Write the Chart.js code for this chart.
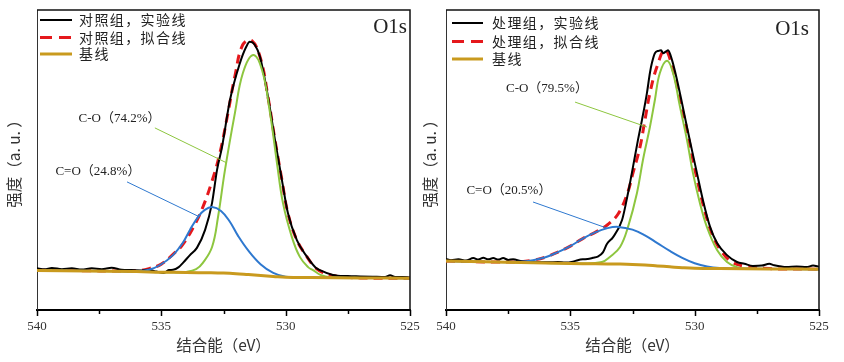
<!DOCTYPE html>
<html><head><meta charset="utf-8">
<script src="https://cdn.jsdelivr.net/npm/chart.js@4.4.1/dist/chart.umd.min.js"></script>
<style>
html,body{margin:0;padding:0;background:#fff;width:844px;height:362px;overflow:hidden}
canvas{position:absolute;top:0}
#c1{left:0}
#c2{left:420px}
</style></head><body>
<canvas id="c1" width="420" height="362"></canvas>
<canvas id="c2" width="424" height="362"></canvas>
<script>
// ---------- axis / labels ----------
const X_TICKS = [540, 535, 530, 525];
const X_MINOR = [537.5, 532.5, 527.5];
const X_TITLE = '结合能（eV）';
const Y_TITLE = '强度（a. u. ）';
const PANEL_TAG = 'O1s';
const NAMES_L = ['对照组，实验线', '对照组，拟合线', '基线'];
const NAMES_R = ['处理组，实验线', '处理组，拟合线', '基线'];
const PEAKS_L = ['C-O（74.2%）', 'C=O（24.8%）'];
const PEAKS_R = ['C-O（79.5%）', 'C=O（20.5%）'];

// ---------- left panel (control group) ----------
const L_EXP_X = [540,539.7,539.4,539,538.6,538.2,537.8,537.4,537,536.6,536.2,535.8,535.5,535.2,534.9,534.7,534.53,534.3,534.13,533.85,533.57,533.24,532.96,532.76,532.56,532.24,531.84,531.6,531.44,531.25,531.03,530.71,530.43,530.15,529.91,529.55,529.14,528.8,528.62,528.1,527.5,527,526.5,526,525.8,525.6,525.3,525];
const L_EXP_Y = [13.9,13.6,14.0,13.6,13.9,13.5,13.9,13.6,14.1,13.4,13.3,13.2,13.4,12.8,12.3,13.3,13.4,14.3,15.7,18.3,20.7,26.7,35.7,46.7,54.3,70,82.3,87.5,89.4,88.5,84.3,71,56.7,43.3,32.3,23.3,17.7,14.2,13.3,11.7,11.3,11.2,11.1,11.0,11.6,11.0,11.0,10.8];
const L_FIT_X = [540,539,538,537,536,535.5,535,534.5,534.17,533.77,533.37,532.96,532.64,532.32,532.04,531.72,531.36,531.0,530.71,530.43,530.15,529.91,529.55,529.14,528.8,528.5,528,527,525];
const L_FIT_Y = [13.3,13.2,13.1,13.0,13.1,13.8,15.3,18.8,21.5,26.7,33.5,43,52.5,65.7,78,88.5,89.8,83.5,71,56.7,43.3,32.3,23.3,17.7,14,12.5,11.3,10.7,10.6];
const L_BASE_X = [540,538,536,535,534,533,532.5,532,531.5,531,530.5,530,529,527,525];
const L_BASE_Y = [13.2,13.0,12.8,12.6,12.5,12.4,12.3,12.1,11.8,11.5,11.2,10.9,10.8,10.7,10.6];
const L_CO_X = [540,536,534.5,534,533.6,533.33,532.96,532.72,532.44,532.04,531.72,531.31,530.95,530.63,530.35,530.11,529.75,529.43,529.1,528.9,528.6,528.2,527,525];
const L_CO_Y = [13.2,12.8,12.55,12.7,13.6,15.7,21,31,46.7,65.7,79,85,80,65.7,49,35.7,24.3,17.7,14.3,13.3,11.7,10.9,10.7,10.6];
const L_CEO_X = [540,537,536,535.5,535.05,534.53,534.13,533.85,533.5,533.25,532.96,532.6,532.25,531.92,531.5,531,530.5,530,529,527,525];
const L_CEO_Y = [13.2,13.0,12.9,13.4,15,18.3,22.5,26.7,31.3,33.4,34.3,33,29.5,24.8,19.8,15.2,12.4,11.1,10.8,10.7,10.6];

// ---------- right panel (treated group) ----------
const R_EXP_X = [540,539.8,539.5,539.2,538.9,538.7,538.5,538.3,538.1,537.9,537.7,537.5,537.3,537,536.7,536.3,535.9,535.5,535.2,534.9,534.7,534.5,534.3,534.09,533.9,533.69,533.53,533.28,532.92,532.68,532.48,532.28,532.12,531.92,531.8,531.72,531.6,531.45,531.35,531.27,531.15,531.07,530.91,530.71,530.51,530.31,530.11,529.91,529.67,529.38,529.1,528.7,528.3,528,527.66,527.3,527,526.8,526.3,525.9,525.5,525.24,525];
const R_EXP_Y = [17.0,16.6,16.9,16.5,17.3,16.8,17.4,16.9,17.3,16.8,17.3,16.7,16.9,16.3,16.1,15.9,15.9,16.0,15.8,16.1,16.6,16.9,17.0,17.4,17.8,19.2,22,24.3,30,39,47.7,56.7,63.3,72.3,79,82.3,85.6,86.4,86.6,85.6,86.2,86.6,83.3,76.7,69,61,53.3,45.7,36.7,27.7,22.3,18.3,16,15.4,14.7,14.8,15.4,14.9,14.3,14.5,14.3,14.8,14.4];
const R_FIT_X = [540,538,537,536.5,536,535.5,535,534.5,533.93,533.49,533.08,532.72,532.48,532.2,532,531.8,531.52,531.19,530.87,530.59,530.31,530.07,529.79,529.51,529.26,528.9,528.5,528,527,525];
const R_FIT_Y = [16.3,16.0,16.1,16.6,17.6,19.3,21.3,23.8,26.2,28.5,32,38.5,45.7,54.3,63.3,72.3,81,86.7,80,70,60,50,39.5,30.5,24.5,19.3,16,14.6,13.8,13.6];
const R_BASE_X = [540,538,536,535,534,533,532.5,532,531.5,531,530.5,530,529,527,525];
const R_BASE_Y = [16.3,16.0,15.7,15.5,15.4,15.3,15.2,15.0,14.7,14.4,14.1,13.9,13.8,13.7,13.6];
const R_CO_X = [540,536,534.5,533.73,533.41,533,532.68,532.32,532.08,531.8,531.6,531.4,531.11,530.87,530.59,530.31,530.07,529.79,529.51,529.1,528.7,528.3,527.8,527,525];
const R_CO_Y = [16.3,15.7,15.5,16,17.7,21,27.7,39,50,61,70,79,83.1,79,67.7,56.7,45.7,35.7,27.7,20,16,14.3,13.8,13.7,13.6];
const R_CEO_X = [540,538,537,536.5,536,535.5,535,534.5,534,533.5,533.08,532.5,532,531.5,531,530.5,530,529.5,529,528,525];
const R_CEO_Y = [16.3,16.0,16.1,16.6,17.6,19.3,21.3,23.8,25.9,27.3,27.7,26.8,24.9,22.3,19.7,17.4,15.6,14.5,14.0,13.75,13.6];

// ---------- styles ----------
const COL = {exp:'#000000', fit:'#E5181C', base:'#C99A1E', co:'#8DC63F', ceo:'#2E78CF'};
const CJK = '"Noto Sans CJK SC", sans-serif';
const SERIF = '"Liberation Serif", "Noto Sans CJK SC", serif';

function pts(xs, ys){ return xs.map((x,i)=>({x:x, y:ys[i]})); }

function line(label, xs, ys, color, width, order, dash, mono){
  return {label, data: pts(xs, ys), borderColor: color, backgroundColor: color,
    borderWidth: width, borderDash: dash || [], order, pointRadius: 0, fill: false,
    tension: 0.4, cubicInterpolationMode: mono ? 'monotone' : 'default', borderCapStyle: 'butt'};
}

const decor = {
  id: 'decor',
  afterDraw(chart) {
    const o = chart.options.plugins.decor;
    const {ctx, chartArea: a, scales: {x, y}} = chart;
    ctx.save();
    ctx.strokeStyle = '#111'; ctx.lineWidth = 1.5;
    ctx.beginPath(); ctx.moveTo(a.left, a.top); ctx.lineTo(a.right, a.top); ctx.lineTo(a.right, a.bottom); ctx.stroke();
    ctx.strokeStyle = '#000'; ctx.lineWidth = 1.5;
    X_TICKS.forEach(v => { const px = Math.round(x.getPixelForValue(v)) + 0.5; ctx.beginPath(); ctx.moveTo(px, a.bottom); ctx.lineTo(px, a.bottom + 6); ctx.stroke(); });
    X_MINOR.forEach(v => { const px = Math.round(x.getPixelForValue(v)) + 0.5; ctx.beginPath(); ctx.moveTo(px, a.bottom); ctx.lineTo(px, a.bottom + 4); ctx.stroke(); });
    const ds = chart.data.datasets;
    ctx.font = '14px ' + CJK; ctx.textBaseline = 'middle'; ctx.textAlign = 'left';
    try { ctx.letterSpacing = '1.4px'; } catch(e) {}
    o.legendRows.forEach((ry, i) => {
      const d = ds[i];
      ctx.strokeStyle = d.borderColor; ctx.lineWidth = d.borderWidth; ctx.setLineDash(i === 1 ? [12, 7] : []);
      ctx.beginPath(); ctx.moveTo(a.left + o.legendLine[0], ry); ctx.lineTo(a.left + o.legendLine[1], ry); ctx.stroke();
      ctx.setLineDash([]);
      ctx.fillStyle = '#222'; ctx.fillText(d.label, a.left + o.legendText, ry);
    });
    try { ctx.letterSpacing = '0px'; } catch(e) {}
    ctx.font = '21px ' + SERIF; ctx.fillStyle = '#222'; ctx.textAlign = 'right';
    ctx.fillText(PANEL_TAG, a.right - o.tag[0], o.tag[1]);
    ctx.font = '13px ' + SERIF; ctx.textAlign = 'center';
    o.notes.forEach(n => {
      ctx.fillStyle = '#222';
      ctx.fillText(n.text, x.getPixelForValue(n.at[0]), y.getPixelForValue(n.at[1]));
      ctx.strokeStyle = n.color; ctx.lineWidth = 1;
      ctx.beginPath();
      ctx.moveTo(x.getPixelForValue(n.from[0]), y.getPixelForValue(n.from[1]));
      ctx.lineTo(x.getPixelForValue(n.to[0]), y.getPixelForValue(n.to[1]));
      ctx.stroke();
    });
    ctx.restore();
  }
};

function makeChart(id, names, peaks, S, lay) {
  const datasets = [
    line(names[0], S.ex, S.ey, COL.exp, 2, 4, null, true),
    line(names[1], S.fx, S.fy, COL.fit, 3, 5, [9, 6]),
    line(names[2], S.bx, S.by, COL.base, 3, 1),
    line('C-O', S.cx, S.cy, COL.co, 2, 3),
    line('C=O', S.dx, S.dy, COL.ceo, 2, 2)
  ];
  return new Chart(document.getElementById(id), {
    type: 'line',
    data: {datasets},
    options: {
      responsive: false, animation: false, devicePixelRatio: 1,
      layout: {padding: {left: 0, right: lay.padRight, top: 10, bottom: 0}},
      plugins: {legend: {display: false}, tooltip: {enabled: false},
        decor: {legendRows: lay.legendRows, legendLine: lay.legendLine, legendText: lay.legendText, tag: lay.tag,
          notes: [
            {text: peaks[0], at: lay.co.at, from: lay.co.from, to: lay.co.to, color: COL.co},
            {text: peaks[1], at: lay.ceo.at, from: lay.ceo.from, to: lay.ceo.to, color: COL.ceo}
          ]}},
      scales: {
        x: {type: 'linear', min: 525, max: 540, reverse: true,
          afterBuildTicks: s => { s.ticks = X_TICKS.map(v => ({value: v})); },
          afterFit: s => { s.height = 52; s.paddingLeft = 0; s.paddingRight = 0; },
          grid: {display: false, drawTicks: false},
          border: {display: true, color: '#000', width: 2},
          ticks: {padding: 9, color: '#333', font: {family: SERIF, size: 13}, maxRotation: 0, callback: v => String(v)},
          title: {display: true, text: X_TITLE, color: '#333', font: {family: CJK, size: 15.5}, padding: {top: 0, bottom: 7.2}}
        },
        y: {type: 'linear', min: 0, max: 100,
          afterFit: s => { s.width = lay.yWidth; s.paddingTop = 0; s.paddingBottom = 0; },
          grid: {display: false, drawTicks: false},
          border: {display: true, color: '#333', width: 1},
          ticks: {display: false},
          title: {display: true, text: Y_TITLE, color: '#333', font: {family: CJK, size: 15.5}, padding: {top: lay.yTitlePad, bottom: 0}}
        }
      }
    },
    plugins: [decor]
  });
}

makeChart('c1', NAMES_L, PEAKS_L,
  {ex: L_EXP_X, ey: L_EXP_Y, fx: L_FIT_X, fy: L_FIT_Y, bx: L_BASE_X, by: L_BASE_Y, cx: L_CO_X, cy: L_CO_Y, dx: L_CEO_X, dy: L_CEO_Y},
  {padRight: 10, yWidth: 37, yTitlePad: 4.8, legendRows: [20, 37.5, 54], legendLine: [3, 35], legendText: 42, tag: [3, 27],
   co: {at: [536.68, 63.7], from: [535.26, 60.7], to: [532.36, 49]},
   ceo: {at: [537.55, 46], from: [536.38, 42.7], to: [533.53, 31.3]}});

makeChart('c2', NAMES_R, PEAKS_R,
  {ex: R_EXP_X, ey: R_EXP_Y, fx: R_FIT_X, fy: R_FIT_Y, bx: R_BASE_X, by: R_BASE_Y, cx: R_CO_X, cy: R_CO_Y, dx: R_CEO_X, dy: R_CEO_Y},
  {padRight: 25, yWidth: 26, yTitlePad: 0.8, legendRows: [23, 41.5, 59], legendLine: [6, 37], legendText: 46, tag: [10, 29],
   co: {at: [535.94, 73.7], from: [534.81, 69.3], to: [531.92, 61]},
   ceo: {at: [537.47, 39.7], from: [536.5, 36], to: [533.53, 27.3]}});
</script></body></html>
